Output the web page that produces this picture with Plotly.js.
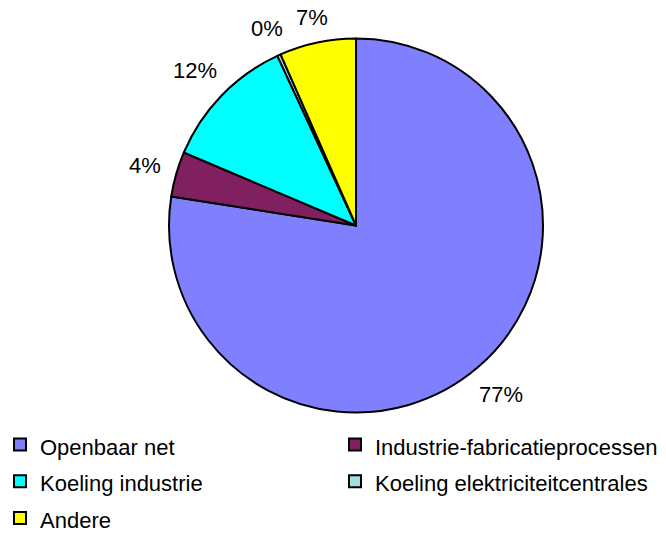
<!DOCTYPE html>
<html>
<head>
<meta charset="utf-8">
<script src="https://cdn.plot.ly/plotly-3.0.1.min.js"></script>
<style>html,body{margin:0;padding:0;background:#fff;}#chart{width:666px;height:533px;}</style>
</head>
<body>
<div id="chart"></div>
<script>
const categories = ["Openbaar net", "Industrie-fabricatieprocessen", "Koeling industrie", "Koeling elektriciteitcentrales", "Andere"];
const values = [77.4, 3.9, 11.7, 0.3, 6.6];
const colors = ["#8080FF", "#802060", "#00FFFF", "#A0E0E0", "#FFFF00"];

const W = 666, H = 533;
const FONT = "Liberation Sans, Arial, sans-serif";
const LABEL_SIZE = 22;
// pie placement (pixels)
const cx = 356, cy = 225.5, r = 187;
const labelGap = 15;

const legendLabels = categories.map(c => '<span style="font-size:22px">' + c + '</span>');

const trace = {
  type: "pie",
  labels: legendLabels,
  values: values,
  sort: false,
  direction: "clockwise",
  rotation: 0,
  marker: { colors: colors, line: { color: "#000", width: 2 } },
  textinfo: "none",
  hoverinfo: "percent",
  domain: { x: [(cx - r) / W, (cx + r) / W], y: [(H - cy - r) / H, (H - cy + r) / H] },
  automargin: false
};

// percentage labels outside each slice, at the slice's mid angle
const total = values.reduce((a, b) => a + b, 0);
let cum = 0;
const annotations = values.map(v => {
  const mid = (cum + v / 2) / total * 2 * Math.PI;
  cum += v;
  const txt = Math.round(v / total * 100) + "%";
  const tw = ((txt.length - 1) * 0.556 + 0.889) * LABEL_SIZE;
  const th = 0.72 * LABEL_SIZE;
  const s = Math.sin(mid), c = Math.cos(mid);
  const R = r + labelGap + Math.abs(s) * tw / 2 + Math.abs(c) * th / 2;
  const px = cx + R * s;
  const py = cy - R * c;
  return {
    xref: "paper", yref: "paper",
    x: px / W, y: (H - py) / H,
    xanchor: "center", yanchor: "middle",
    text: txt,
    showarrow: false,
    font: { family: FONT, size: LABEL_SIZE, color: "#000" }
  };
});

const layout = {
  width: W, height: H,
  margin: { l: 0, r: 0, t: 0, b: 0, autoexpand: false },
  paper_bgcolor: "#fff",
  font: { family: FONT, size: 22, color: "#000" },
  showlegend: true,
  annotations: annotations,
  legend: {
    orientation: "h",
    x: 0.0, xanchor: "left",
    y: (H - 421) / H, yanchor: "top",
    entrywidth: 290, entrywidthmode: "pixels",
    itemwidth: 30,
    traceorder: "normal",
    font: { family: FONT, size: 26, color: "#000" }
  }
};

Plotly.newPlot("chart", [trace], layout, { displayModeBar: false, staticPlot: true });
</script>
</body>
</html>
